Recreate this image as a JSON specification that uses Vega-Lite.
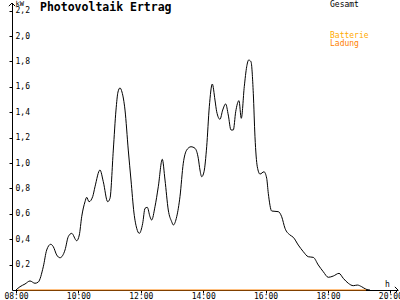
{
  "$schema": "https://vega.github.io/schema/vega-lite/v6.json",
  "autosize": "none",
  "width": 386,
  "height": 287,
  "padding": {"left": 12, "top": 3, "right": 2, "bottom": 10},
  "background": "white",
  "config": {
    "view": {"stroke": null},
    "font": "DejaVu Sans Mono",
    "axis": {"grid": false, "domainColor": "black", "tickColor": "black", "labelColor": "black", "titleColor": "black", "labelFont": "DejaVu Sans Mono", "titleFont": "DejaVu Sans Mono", "labelFontSize": 8, "titleFontSize": 8, "titleFontWeight": "normal", "domainWidth": 1, "tickWidth": 1, "labelOverlap": false}
  },
  "title": {"text": "Photovoltaik Ertrag", "anchor": "start", "frame": "group", "dx": 28, "offset": -14, "baseline": "top", "font": "DejaVu Sans Mono", "fontSize": 11.5, "fontWeight": "bold", "color": "black"},
  "datasets": {
    "gesamt": [
      {"h": 8.0, "kW": 0.0, "serie": "Gesamt"},
      {"h": 8.128, "kW": 0.026, "serie": "Gesamt"},
      {"h": 8.288, "kW": 0.047, "serie": "Gesamt"},
      {"h": 8.449, "kW": 0.071, "serie": "Gesamt"},
      {"h": 8.609, "kW": 0.053, "serie": "Gesamt"},
      {"h": 8.715, "kW": 0.063, "serie": "Gesamt"},
      {"h": 8.875, "kW": 0.183, "serie": "Gesamt"},
      {"h": 8.984, "kW": 0.315, "serie": "Gesamt"},
      {"h": 9.112, "kW": 0.36, "serie": "Gesamt"},
      {"h": 9.196, "kW": 0.341, "serie": "Gesamt"},
      {"h": 9.304, "kW": 0.276, "serie": "Gesamt"},
      {"h": 9.41, "kW": 0.254, "serie": "Gesamt"},
      {"h": 9.571, "kW": 0.315, "serie": "Gesamt"},
      {"h": 9.676, "kW": 0.42, "serie": "Gesamt"},
      {"h": 9.785, "kW": 0.446, "serie": "Gesamt"},
      {"h": 9.946, "kW": 0.388, "serie": "Gesamt"},
      {"h": 10.029, "kW": 0.433, "serie": "Gesamt"},
      {"h": 10.106, "kW": 0.577, "serie": "Gesamt"},
      {"h": 10.212, "kW": 0.695, "serie": "Gesamt"},
      {"h": 10.266, "kW": 0.73, "serie": "Gesamt"},
      {"h": 10.34, "kW": 0.695, "serie": "Gesamt"},
      {"h": 10.458, "kW": 0.735, "serie": "Gesamt"},
      {"h": 10.532, "kW": 0.813, "serie": "Gesamt"},
      {"h": 10.692, "kW": 0.945, "serie": "Gesamt"},
      {"h": 10.798, "kW": 0.853, "serie": "Gesamt"},
      {"h": 10.939, "kW": 0.695, "serie": "Gesamt"},
      {"h": 11.013, "kW": 0.722, "serie": "Gesamt"},
      {"h": 11.119, "kW": 1.102, "serie": "Gesamt"},
      {"h": 11.205, "kW": 1.417, "serie": "Gesamt"},
      {"h": 11.269, "kW": 1.559, "serie": "Gesamt"},
      {"h": 11.333, "kW": 1.591, "serie": "Gesamt"},
      {"h": 11.397, "kW": 1.559, "serie": "Gesamt"},
      {"h": 11.494, "kW": 1.417, "serie": "Gesamt"},
      {"h": 11.599, "kW": 1.102, "serie": "Gesamt"},
      {"h": 11.686, "kW": 0.866, "serie": "Gesamt"},
      {"h": 11.782, "kW": 0.606, "serie": "Gesamt"},
      {"h": 11.869, "kW": 0.486, "serie": "Gesamt"},
      {"h": 11.952, "kW": 0.446, "serie": "Gesamt"},
      {"h": 12.061, "kW": 0.525, "serie": "Gesamt"},
      {"h": 12.135, "kW": 0.643, "serie": "Gesamt"},
      {"h": 12.208, "kW": 0.651, "serie": "Gesamt"},
      {"h": 12.295, "kW": 0.577, "serie": "Gesamt"},
      {"h": 12.349, "kW": 0.551, "serie": "Gesamt"},
      {"h": 12.455, "kW": 0.656, "serie": "Gesamt"},
      {"h": 12.561, "kW": 0.813, "serie": "Gesamt"},
      {"h": 12.689, "kW": 1.029, "serie": "Gesamt"},
      {"h": 12.776, "kW": 0.866, "serie": "Gesamt"},
      {"h": 12.881, "kW": 0.63, "serie": "Gesamt"},
      {"h": 12.99, "kW": 0.538, "serie": "Gesamt"},
      {"h": 13.042, "kW": 0.512, "serie": "Gesamt"},
      {"h": 13.151, "kW": 0.577, "serie": "Gesamt"},
      {"h": 13.256, "kW": 0.735, "serie": "Gesamt"},
      {"h": 13.362, "kW": 0.998, "serie": "Gesamt"},
      {"h": 13.471, "kW": 1.102, "serie": "Gesamt"},
      {"h": 13.609, "kW": 1.128, "serie": "Gesamt"},
      {"h": 13.737, "kW": 1.116, "serie": "Gesamt"},
      {"h": 13.843, "kW": 1.037, "serie": "Gesamt"},
      {"h": 13.897, "kW": 0.945, "serie": "Gesamt"},
      {"h": 13.952, "kW": 0.892, "serie": "Gesamt"},
      {"h": 14.026, "kW": 0.931, "serie": "Gesamt"},
      {"h": 14.112, "kW": 1.128, "serie": "Gesamt"},
      {"h": 14.196, "kW": 1.443, "serie": "Gesamt"},
      {"h": 14.292, "kW": 1.622, "serie": "Gesamt"},
      {"h": 14.378, "kW": 1.496, "serie": "Gesamt"},
      {"h": 14.433, "kW": 1.404, "serie": "Gesamt"},
      {"h": 14.538, "kW": 1.344, "serie": "Gesamt"},
      {"h": 14.625, "kW": 1.417, "serie": "Gesamt"},
      {"h": 14.721, "kW": 1.465, "serie": "Gesamt"},
      {"h": 14.804, "kW": 1.378, "serie": "Gesamt"},
      {"h": 14.891, "kW": 1.26, "serie": "Gesamt"},
      {"h": 14.965, "kW": 1.26, "serie": "Gesamt"},
      {"h": 15.042, "kW": 1.404, "serie": "Gesamt"},
      {"h": 15.147, "kW": 1.491, "serie": "Gesamt"},
      {"h": 15.221, "kW": 1.352, "serie": "Gesamt"},
      {"h": 15.317, "kW": 1.601, "serie": "Gesamt"},
      {"h": 15.394, "kW": 1.758, "serie": "Gesamt"},
      {"h": 15.458, "kW": 1.811, "serie": "Gesamt"},
      {"h": 15.532, "kW": 1.798, "serie": "Gesamt"},
      {"h": 15.606, "kW": 1.549, "serie": "Gesamt"},
      {"h": 15.66, "kW": 1.207, "serie": "Gesamt"},
      {"h": 15.734, "kW": 0.971, "serie": "Gesamt"},
      {"h": 15.821, "kW": 0.913, "serie": "Gesamt"},
      {"h": 15.949, "kW": 0.931, "serie": "Gesamt"},
      {"h": 16.035, "kW": 0.88, "serie": "Gesamt"},
      {"h": 16.087, "kW": 0.761, "serie": "Gesamt"},
      {"h": 16.196, "kW": 0.622, "serie": "Gesamt"},
      {"h": 16.407, "kW": 0.617, "serie": "Gesamt"},
      {"h": 16.516, "kW": 0.577, "serie": "Gesamt"},
      {"h": 16.622, "kW": 0.486, "serie": "Gesamt"},
      {"h": 16.782, "kW": 0.433, "serie": "Gesamt"},
      {"h": 16.888, "kW": 0.415, "serie": "Gesamt"},
      {"h": 17.048, "kW": 0.354, "serie": "Gesamt"},
      {"h": 17.208, "kW": 0.302, "serie": "Gesamt"},
      {"h": 17.369, "kW": 0.262, "serie": "Gesamt"},
      {"h": 17.529, "kW": 0.257, "serie": "Gesamt"},
      {"h": 17.689, "kW": 0.197, "serie": "Gesamt"},
      {"h": 17.849, "kW": 0.144, "serie": "Gesamt"},
      {"h": 18.01, "kW": 0.1, "serie": "Gesamt"},
      {"h": 18.17, "kW": 0.11, "serie": "Gesamt"},
      {"h": 18.353, "kW": 0.131, "serie": "Gesamt"},
      {"h": 18.49, "kW": 0.092, "serie": "Gesamt"},
      {"h": 18.651, "kW": 0.053, "serie": "Gesamt"},
      {"h": 18.811, "kW": 0.034, "serie": "Gesamt"},
      {"h": 18.939, "kW": 0.039, "serie": "Gesamt"},
      {"h": 19.08, "kW": 0.026, "serie": "Gesamt"},
      {"h": 19.218, "kW": 0.006, "serie": "Gesamt"},
      {"h": 19.346, "kW": 0.0, "serie": "Gesamt"}
    ],
    "ladung": [
      {"h": 8.064, "kW": 0.0, "serie": "Ladung"},
      {"h": 19.218, "kW": 0.0, "serie": "Ladung"}
    ],
    "pfeile": [
      {"h": 20.244, "kW": 0.0, "achse": "x"},
      {"h": 7.872, "kW": 2.26, "achse": "y"}
    ]
  },
  "encoding": {
    "x": {"field": "h", "type": "quantitative", "scale": {"domain": [7.872, 20.244], "nice": false, "zero": false},
      "axis": {"values": [8, 10, 12, 14, 16, 18, 20], "labelExpr": "(datum.value < 10 ? '0' : '') + datum.value + ':00'", "tickSize": 3, "labelPadding": -1, "labelOverlap": false, "labelFlush": false, "labelBound": false, "title": "h", "titleX": 375, "titleY": -4, "titleAlign": "center", "titleBaseline": "alphabetic", "titleAnchor": null}},
    "y": {"field": "kW", "type": "quantitative", "scale": {"domain": [0, 2.26], "nice": false},
      "axis": {"values": [0.2, 0.4, 0.6, 0.8, 1.0, 1.2, 1.4, 1.6, 1.8, 2.0, 2.2], "labelExpr": "replace(format(datum.value, '.1f'), '.', ',')", "tickSize": 3, "labelAlign": "left", "labelBaseline": "middle", "labelPadding": -6, "labelOverlap": false, "labelFlush": false, "labelBound": false, "title": "kW", "titleAngle": 0, "titleX": 3, "titleY": -4, "titleAlign": "left", "titleBaseline": "top", "titleFontSize": 7}}
  },
  "layer": [
    {
      "data": {"name": "gesamt"},
      "mark": {"type": "line", "interpolate": "monotone", "strokeWidth": 1, "clip": true},
      "encoding": {
        "stroke": {"field": "serie", "type": "nominal", "scale": {"domain": ["Gesamt"], "range": ["black"]},
          "legend": {"orient": "none", "legendX": 310, "legendY": -2, "title": null, "symbolSize": 0, "symbolStrokeWidth": 0, "symbolOpacity": 0, "labelOffset": 0, "padding": 0, "labelFont": "DejaVu Sans Mono", "labelFontSize": 8, "labelColor": "black"}}
      }
    },
    {
      "data": {"name": "ladung"},
      "mark": {"type": "line", "strokeWidth": 1},
      "encoding": {
        "stroke": {"field": "serie", "type": "nominal", "scale": {"domain": ["Batterie", "Ladung"], "range": ["#FFAA00", "#FF8000"]},
          "legend": {"orient": "none", "legendX": 310, "legendY": 29, "title": null, "symbolSize": 0, "symbolStrokeWidth": 0, "symbolOpacity": 0, "labelOffset": 0, "padding": 0, "rowPadding": 0, "labelFont": "DejaVu Sans Mono", "labelFontSize": 8, "labelColor": "#FF8000",
            "encode": {"labels": {"update": {"fill": {"signal": "datum.label == 'Batterie' ? '#FFAA00' : '#FF8000'"}}}}}}
      }
    },
    {
      "data": {"name": "pfeile"},
      "transform": [{"filter": "datum.achse == 'x'"}],
      "mark": {"type": "point", "shape": "M-1,-1L0,0L-1,1", "size": 40, "filled": false, "stroke": "black", "strokeWidth": 1, "opacity": 1, "clip": false}
    },
    {
      "data": {"name": "pfeile"},
      "transform": [{"filter": "datum.achse == 'y'"}],
      "mark": {"type": "point", "shape": "M-1,1L0,0L1,1", "size": 40, "filled": false, "stroke": "black", "strokeWidth": 1, "opacity": 1, "clip": false}
    }
  ],
  "resolve": {"scale": {"stroke": "independent"}, "legend": {"stroke": "independent"}}
}
